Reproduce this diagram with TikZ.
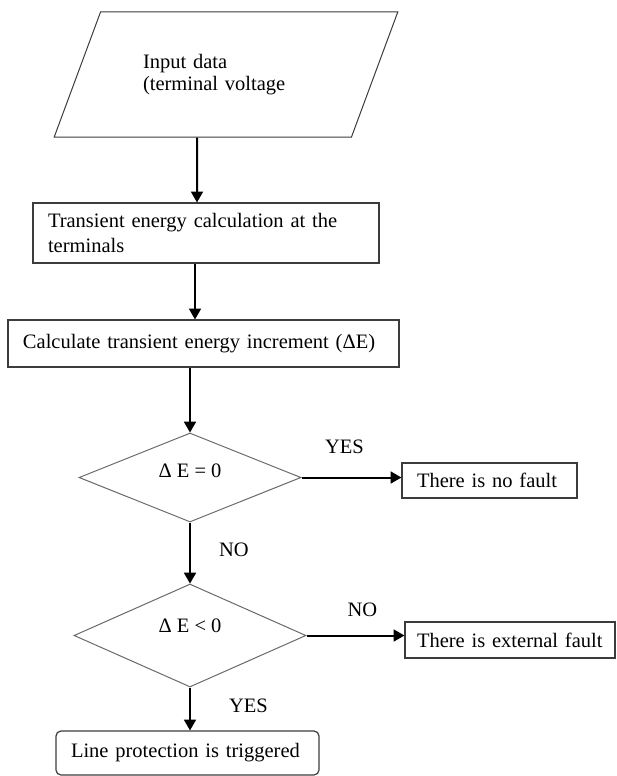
\documentclass[tikz,border=0pt]{standalone}
\usepackage{fontspec}
\setmainfont{Liberation Serif}
\usetikzlibrary{shapes,arrows}
\definecolor{boxgray}{RGB}{60,60,60}
\definecolor{diagray}{RGB}{105,105,105}
\tikzstyle{io} = [trapezium, draw=boxgray, line width=1pt,
    trapezium left angle=53, trapezium right angle=127, trapezium stretches=true,
    minimum width=344pt, minimum height=125pt, text width=166pt, align=left, inner sep=0pt]
\tikzstyle{decision} = [diamond, draw=diagray, line width=1pt, inner sep=0pt]
\tikzstyle{block} = [rectangle, draw=boxgray, line width=1.2pt, align=left,
    inner xsep=15pt, inner ysep=0pt]
\tikzstyle{line} = [draw, line width=2pt, -triangle 60]
\tikzstyle{lbl} = [inner sep=0pt]

\begin{document}
\begin{tikzpicture}[x=1pt, y=-1pt, font=\fontsize{20.5}{25}\selectfont]
    \useasboundingbox (0,0) rectangle (617,776);
    % Place nodes
    \node [io, font=\fontsize{20.5}{22}\selectfont] (init) at (226,74.5) {Input data\\(terminal voltage};
    \node [block, text width=316pt, minimum height=60pt, below of=init, node distance=158.5pt, xshift=-20pt] (energy) {Transient energy calculation at the\\terminals};
    \node [block, text width=361pt, minimum height=47pt, below of=energy, node distance=110.5pt, xshift=-2.5pt] (incr) {Calculate transient energy increment (ΔE)};
    \node [decision, minimum width=222pt, minimum height=89pt, below of=incr, node distance=134pt, xshift=-13.5pt] (zero) {\raisebox{7pt}[\height][\depth]{Δ E = 0}};
    \node [decision, minimum width=232pt, minimum height=103pt, below of=zero, node distance=158pt] (sign) {\raisebox{10pt}[\height][\depth]{Δ E < 0}};
    \node [block, rounded corners=5pt, text width=233pt, minimum height=44pt, below of=sign, node distance=117.5pt, xshift=-2.5pt] (stop) {Line protection is triggered};
    \node [block, text width=145pt, minimum height=35pt, right of=zero, node distance=299.5pt, yshift=-3pt] (nofault) {There is no fault};
    \node [block, inner xsep=12pt, text width=186pt, minimum height=36pt, right of=sign, node distance=320pt, yshift=-4.5pt] (external) {There is external fault};
    % Draw edges
    \path [line] ([xshift=-29pt]init.south) -- ([xshift=-9pt]energy.north);
    \path [line] ([xshift=-11pt]energy.south) -- ([xshift=-8.5pt]incr.north);
    \path [line] (zero.north |- incr.south) -- (zero.north);
    \path [line] (zero.south) -- node [lbl, right=28pt, pos=0.44] {NO} (sign.north);
    \path [line] (sign.south) -- node [lbl, right=38pt, pos=0.43] {YES} (sign.south |- stop.north);
    \path [line] (zero.east) -- node [lbl, above=23pt, pos=0.43] {YES} (zero.east -| nofault.west);
    \path [line] (sign.east) -- node [lbl, above=18pt, pos=0.57] {NO} (sign.east -| external.west);
\end{tikzpicture}
\end{document}
